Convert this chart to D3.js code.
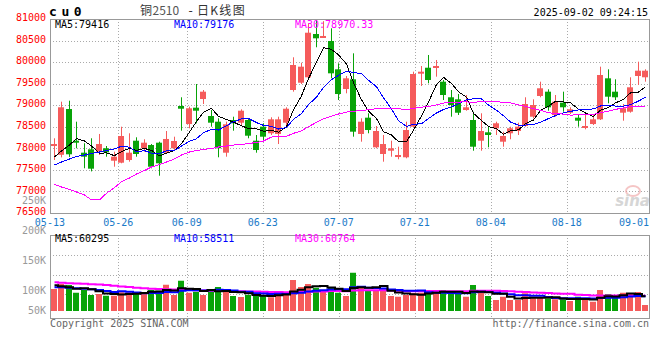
<!DOCTYPE html>
<html>
<head>
<meta charset="utf-8">
<script src="https://cdn.jsdelivr.net/npm/d3@7"></script>
<style>
body { margin: 0; background: #fff; }
svg text { font-family: "DejaVu Sans Mono", monospace; }
</style>
</head>
<body>
<svg id="chart" width="660" height="360"></svg>
<script>
// daily bars, cu0 (main contract 2510)
const dates = ["05-13","05-14","05-15","05-16","05-19","05-20","05-21","05-22","05-23","05-26",
	"05-27","05-28","05-29","05-30","06-03","06-04","06-05","06-06","06-09","06-10",
	"06-11","06-12","06-13","06-16","06-17","06-18","06-19","06-20","06-23","06-24",
	"06-25","06-26","06-27","06-30","07-01","07-02","07-03","07-04","07-07","07-08",
	"07-09","07-10","07-11","07-14","07-15","07-16","07-17","07-18","07-21","07-22",
	"07-23","07-24","07-25","07-28","07-29","07-30","07-31","08-01","08-04","08-05",
	"08-06","08-07","08-08","08-11","08-12","08-13","08-14","08-15","08-18","08-19",
	"08-20","08-21","08-22","08-25","08-26","08-27","08-28","08-29","09-01","09-02"];
const open = [78054,77850,78912,78177,77899,77977,77922,78001,77713,77667,
	77729,78177,78001,78077,78131,77899,78001,78982,78564,78943,
	79144,78750,78618,77899,78657,78595,78657,78177,78502,78349,
	78333,78595,79353,79522,79648,80652,80566,80490,79833,79376,
	79601,78333,78711,78024,77869,77945,77806,77792,78502,79740,
	79870,79894,79546,79184,79137,78889,78657,78177,78372,78465,
	78154,78349,78402,78518,78734,79214,79314,78773,79059,78827,
	78711,78502,78564,78673,79624,79314,78827,78850,79678,79648];
const high = [78233,79082,79105,78618,78117,78233,78333,78054,77922,78502,
	78349,78256,78210,78100,78154,78402,78270,79184,78966,79492,
	79353,78889,78697,78618,78734,78905,78697,78309,78581,78720,
	78734,78952,80112,79986,80907,80977,80950,80784,79972,79678,
	80204,78697,78813,78518,78309,78177,78038,78618,79778,79910,
	80165,80049,79585,79353,79260,79237,78850,78813,78518,78618,
	78386,78502,78595,79184,79137,79546,79369,79237,79314,78952,
	78773,78773,78773,79894,79833,79601,79028,79648,80010,79833];
const low = [77729,77790,77800,78001,77537,77465,77845,77806,77574,77653,
	77690,77806,77922,77537,77365,77885,77961,78409,78465,78581,
	79028,78502,77792,77806,78409,78541,78233,77899,78154,78309,
	78100,78518,79314,79492,79625,80344,80560,79625,79121,79276,
	78270,78154,78349,78001,77690,77806,77746,77769,78488,79446,
	79508,79662,79121,78734,78773,78873,77945,77945,78024,78309,
	78038,78210,78309,78502,78697,79184,78873,78734,78850,78796,
	78502,78441,78541,78657,79044,79121,78641,78827,79469,79546];
const close = [78100,78952,77862,78131,77806,77528,78100,77908,77806,78286,
	77899,77869,78131,77574,77653,78217,78170,78919,78929,78873,
	79314,78595,78001,78557,78581,78873,78293,77961,78270,78673,
	78673,78919,79933,79894,80682,80552,80606,79740,79260,79624,
	78386,78618,78425,78402,78100,78001,77845,78425,79724,79778,
	79585,79910,79237,79005,78826,78952,78038,78402,78309,78581,
	78286,78465,78502,79028,79005,79393,78952,79082,78952,78905,
	78641,78518,78673,79701,79198,79184,78929,79416,79801,79801];
const volume = [88000,108000,104000,73000,84000,64000,68000,61000,61000,75000,
	75000,73000,76000,84000,81000,105000,64000,121000,73000,77000,
	64000,84000,96000,77000,60000,56000,64000,64000,60000,55000,
	73000,76000,124000,96000,108000,93000,77000,95000,73000,60000,
	153000,93000,84000,84000,84000,60000,57000,64000,71000,73000,
	84000,73000,84000,73000,71000,57000,104000,81000,60000,44000,
	57000,44000,44000,71000,51000,55000,51000,47000,47000,40000,
	57000,47000,37000,84000,68000,55000,73000,68000,76000,24000];

// averages before enough bars are on screen
const ma5Head = [77799,77938,78077,78228];
const ma10Head = [77613,77683,77753,77811,77845,77880,77915,77950,77985];
const ma30Head = [77161,77103,77045,76987,76917,76802,76802,76957,77087,77226,
	77312,77405,77486,77567,77625,77683,77753,77845,77915,77950,
	77973,77996,78031,78054,78077,78089,78112,78135,78170];
const volMa5Head = [102700,98700,94700,89300];
const volMa10Head = [94700,94700,93300,90700,89300,86700,84000,80000,76000];
const volMa30Head = [114700,113000,111000,110000,109000,107000,106000,104000,101000,98000,
	96000,93000,91000,89000,88000,86700,86000,85000,84000,83000,
	82000,81000,80500,80000,79500,79000,78500,78000,77500];

const priceTicks = [81000,80500,80000,79500,79000,78500,78000,77500,77000,76500];
const volTicks = [250000,200000,150000,100000,50000];
const dateTicks = ["05-13","05-26","06-09","06-23","07-07","07-21","08-04","08-18","09-01"];
const titleParts = ["铜", "2510", "-", "日K线图"];
const priceLegend = ["MA5:79416","MA10:79176","MA30:78970.33"];
const volLegend = ["MA5:60295","MA10:58511","MA30:60764"];
const maColors = ["#000000","#0000ff","#ff00ff"];

const UP = "#f55b5b", DOWN = "#08a308", GRID = "#aaa", FRAME = "#999";

function movingAvg(values, n, head) {
	return values.map(function(v, i) {
		if (i < n - 1) return head[i];
		return d3.mean(values.slice(i - n + 1, i + 1));
	});
}

function init() {
	let svg = d3.select("#chart");
	let left = 50, right = 649;
	let mainTop = 19, mainBot = 213, volTop = 235, volBot = 318;

	let x = d3.scaleBand().domain(dates).range([left, right]).paddingInner(0.2).paddingOuter(0.1);
	let cx = (d) => Math.round(x(d) + x.bandwidth() / 2);
	let xTick = d3.scaleLinear().domain([0, dates.length - 1]).range([49.9, 650.3]);
	let y = d3.scaleLinear().domain([76500, 81000]).range([mainBot, mainTop]);
	let yVol = d3.scaleLinear().domain([0, 200000]).range([311, 261]);
	let yVolLabel = d3.scaleLinear().domain([100000, 250000]).range([290.7, 200.7]);

	let bars = dates.map(function(d, i) {
		return {date: d, o: open[i], h: high[i], l: low[i], c: close[i], v: volume[i], up: close[i] >= open[i]};
	});

	// header
	svg.append("text").attr("x", 49).attr("y", 16)
		.style("font-size", "13px").style("font-weight", "bold").style("letter-spacing", "4.6px")
		.text("cu0");
	let title = svg.append("text").attr("y", 15)
		.style("font-family", "'Noto Sans CJK SC', sans-serif").style("font-size", "12px").attr("fill", "#333");
	let titleX = [140, 152.5, 187, 197];
	titleParts.forEach(function(t, k) {
		title.append("tspan").attr("x", titleX[k]).text(t)
			.attr("fill", k == 1 ? "#555" : "#333")
			.style("font-family", k == 2 ? "'DejaVu Sans Mono', monospace" : null)
			.style("letter-spacing", k == 3 ? "1.3px" : "0px");
	});
	svg.append("text").attr("x", 648).attr("y", 16).attr("text-anchor", "end")
		.style("font-size", "10px").text("2025-09-02 09:24:15");

	// grid
	let xLabelIdx = dateTicks.map((t) => dates.indexOf(t));
	let vGrid = xLabelIdx.filter((i) => i > 0 && i < dates.length - 2);
	[[mainTop, mainBot], [volTop, volBot]].forEach(function(p) {
		svg.append("g").selectAll("line").data(vGrid).enter().append("line")
			.attr("x1", (i) => Math.round(xTick(i)) + 0.5).attr("x2", (i) => Math.round(xTick(i)) + 0.5)
			.attr("y1", p[0]).attr("y2", p[1])
			.attr("stroke", GRID).attr("stroke-dasharray", "1,2");
	});
	svg.append("g").selectAll("line").data(priceTicks.slice(1, -1)).enter().append("line")
		.attr("x1", left).attr("x2", right)
		.attr("y1", (d) => Math.round(y(d)) + 0.5).attr("y2", (d) => Math.round(y(d)) + 0.5)
		.attr("stroke", GRID).attr("stroke-dasharray", "1,2");
	svg.append("g").selectAll("line").data(d3.range(1, 4)).enter().append("line")
		.attr("x1", left).attr("x2", right)
		.attr("y1", (k) => Math.round(volTop + k * 19.8) + 0.5).attr("y2", (k) => Math.round(volTop + k * 19.8) + 0.5)
		.attr("stroke", GRID).attr("stroke-dasharray", "1,2");

	// watermark
	let wm = svg.append("g").attr("opacity", 0.6);
	wm.append("ellipse").attr("cx", 633).attr("cy", 191).attr("rx", 7).attr("ry", 5)
		.attr("fill", "none").attr("stroke", "#f0a0a0").attr("stroke-width", 2);
	wm.append("text").attr("x", 650).attr("y", 206).attr("text-anchor", "end")
		.style("font-family", "'DejaVu Sans', sans-serif").style("font-size", "15px")
		.style("font-weight", "bold").style("font-style", "italic").attr("fill", "#bbb")
		.text("sina");

	// candles
	let candles = svg.append("g");
	candles.selectAll("line").data(bars).enter().append("line")
		.attr("x1", (d) => cx(d.date) + 0.5).attr("x2", (d) => cx(d.date) + 0.5)
		.attr("y1", (d) => y(d.h)).attr("y2", (d) => y(d.l))
		.attr("stroke", (d) => d.up ? UP : DOWN);
	candles.selectAll("rect").data(bars).enter().append("rect")
		.attr("x", (d) => cx(d.date) - 3).attr("width", 6)
		.attr("y", (d) => y(Math.max(d.o, d.c)))
		.attr("height", (d) => Math.max(2, Math.abs(y(d.o) - y(d.c))))
		.attr("fill", (d) => d.up ? UP : DOWN);

	// price averages
	let priceMa = [movingAvg(close, 5, ma5Head), movingAvg(close, 10, ma10Head), movingAvg(close, 30, ma30Head)];
	let line = d3.line().x((d, i) => cx(dates[i]) + 0.5).y((d) => y(d));
	priceMa.forEach(function(s, k) {
		svg.append("path").datum(s).attr("d", line)
			.attr("fill", "none").attr("stroke", maColors[k]).attr("stroke-width", 1)
			.style("shape-rendering", "crispEdges");
	});

	// volume bars
	svg.append("g").selectAll("rect").data(bars).enter().append("rect")
		.attr("x", (d) => cx(d.date) - 3).attr("width", 6)
		.attr("y", (d) => yVol(d.v)).attr("height", (d) => yVol(0) - yVol(d.v))
		.attr("fill", (d) => d.up ? UP : DOWN);

	let volMa = [movingAvg(volume, 5, volMa5Head), movingAvg(volume, 10, volMa10Head), movingAvg(volume, 30, volMa30Head)];
	let vline = d3.line().x((d, i) => cx(dates[i]) + 0.5).y((d) => yVol(d)).curve(d3.curveStep);
	[2, 1, 0].forEach(function(k) {
		svg.append("path").datum(volMa[k]).attr("d", vline)
			.attr("fill", "none").attr("stroke", maColors[k]).attr("stroke-width", 2);
	});

	// frames
	[[mainTop, mainBot], [volTop, volBot]].forEach(function(p) {
		svg.append("rect").attr("x", left + 0.5).attr("y", p[0] + 0.5)
			.attr("width", right - left).attr("height", p[1] - p[0])
			.attr("fill", "none").attr("stroke", FRAME);
	});

	// legends
	let legendX = [55, 174, 295];
	priceLegend.forEach(function(t, k) {
		svg.append("text").attr("x", legendX[k]).attr("y", 27.5).style("font-size", "10px")
			.attr("fill", maColors[k]).text(t);
	});
	volLegend.forEach(function(t, k) {
		svg.append("text").attr("x", legendX[k]).attr("y", 241.5).style("font-size", "10px")
			.attr("fill", maColors[k]).text(t);
	});

	// axes labels
	svg.append("g").selectAll("text").data(volTicks).enter().append("text")
		.attr("x", 46).attr("y", (d) => Math.min(yVolLabel(d), 310.7) + 3.6)
		.attr("text-anchor", "end").style("font-size", "10px").attr("fill", "#999")
		.text((d) => (d / 1000) + "K");
	svg.append("g").selectAll("text").data(priceTicks).enter().append("text")
		.attr("x", 46).attr("y", (d) => y(d) + 2.2)
		.attr("text-anchor", "end").style("font-size", "10px").attr("fill", "#f00")
		.text((d) => d);
	svg.append("g").selectAll("text").data(xLabelIdx).enter().append("text")
		.attr("x", (i) => Math.min(xTick(i), right - 15))
		.attr("y", 225.5).attr("text-anchor", "middle")
		.style("font-size", "10px").attr("fill", "#1a7ac8")
		.text((i) => dates[i]);

	// footer
	svg.append("text").attr("x", 50).attr("y", 327).style("font-size", "10px").attr("fill", "#666")
		.text("Copyright 2025 SINA.COM");
	svg.append("text").attr("x", 649).attr("y", 327).attr("text-anchor", "end")
		.style("font-size", "10px").attr("fill", "#666").text("http://finance.sina.com.cn");
}

init();
</script>
</body>
</html>
